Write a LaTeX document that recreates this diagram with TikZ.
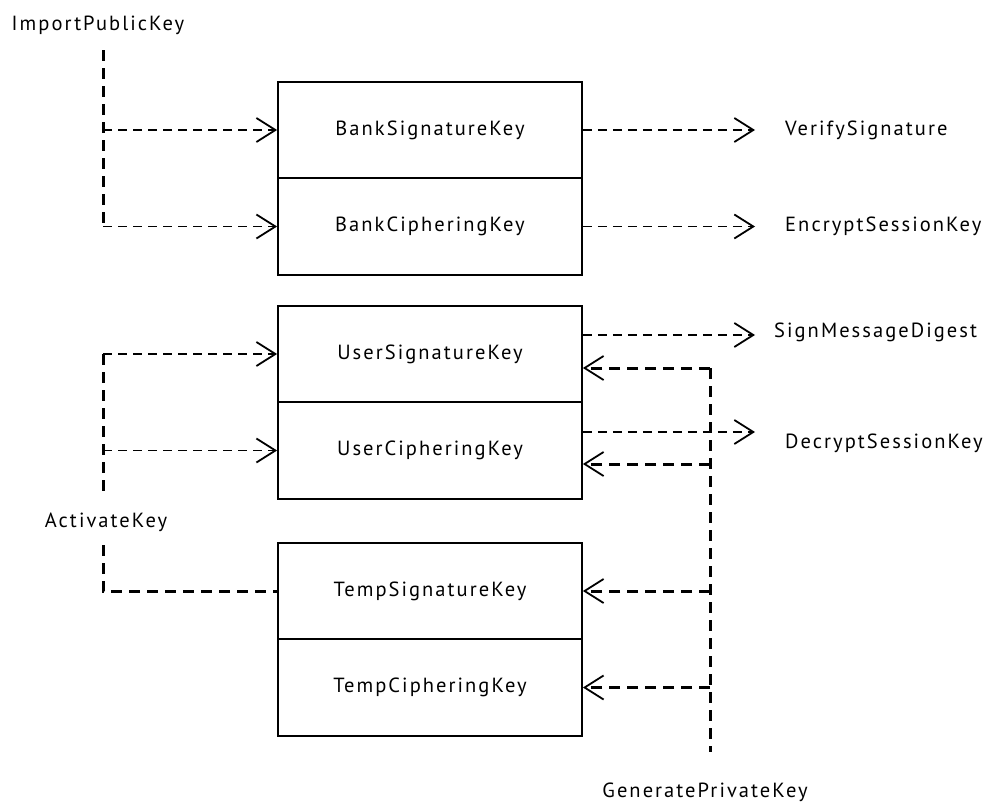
\documentclass[tikz,border=0pt]{standalone}
\usepackage{fontspec}
\setmainfont[LetterSpace=10]{PT Sans}
\usetikzlibrary{arrows.meta}
\begin{document}
\begin{tikzpicture}[x=1pt,y=-1pt,
  font=\fontsize{20.5}{24}\selectfont,
  key/.style={draw, line width=1.8pt, minimum width=304pt, minimum height=96.5pt, inner sep=0pt},
  lbl/.style={inner sep=0pt},
  vee/.style={-{Straight Barb[length=19pt,width=24pt,line width=1.8pt]}},
  thin dash/.style={line width=1.8pt, dash pattern=on 9pt off 6pt},
  thick dash/.style={line width=3pt, dash pattern=on 11pt off 7pt}]
\useasboundingbox (0,0) rectangle (986,806);

% key boxes
\node[key] (bsk) at (430,130) {BankSignatureKey};
\node[key] (bck) at (430,226.5) {BankCipheringKey};
\node[key] (usk) at (430,354) {UserSignatureKey};
\node[key] (uck) at (430,450.5) {UserCipheringKey};
\node[key] (tsk) at (430,591) {TempSignatureKey};
\node[key] (tck) at (430,687.5) {TempCipheringKey};

% operation labels
\node[lbl] (imp) at (98,25) {ImportPublicKey};
\node[lbl] (act) at (106,522) {ActivateKey};
\node[lbl] (gen) at (705,792) {GeneratePrivateKey};
\node[lbl, anchor=west] (ver) at (785,130) {VerifySignature};
\node[lbl, anchor=west] (enc) at (785,226) {EncryptSessionKey};
\node[lbl, anchor=west] (sig) at (774,332) {SignMessageDigest};
\node[lbl, anchor=west] (dec) at (785,443) {DecryptSessionKey};

% ImportPublicKey
\coordinate (i0) at (103,50);
\coordinate (i1) at (103,130);
\coordinate (i2) at (103,226.5);
\draw[thick dash] (i0) -- (i2);
\draw[thin dash, vee] (i1) -- (bsk.west);
\draw[thin dash, vee] (i2) -- (bck.west);

% outgoing uses
\coordinate (o1) at (755,130);
\coordinate (o2) at (755,226.5);
\coordinate (o3) at (755,335);
\coordinate (o4) at (755,432);
\draw[thin dash, vee] (bsk.east) -- (o1);
\draw[thin dash, vee] (bck.east) -- (o2);
\draw[thin dash, vee] (usk.east |- o3) -- (o3);
\draw[thin dash, vee] (uck.east |- o4) -- (o4);

% ActivateKey
\coordinate (a1) at (103,354);
\coordinate (a2) at (103,450.5);
\coordinate (a3) at (103,497);
\coordinate (a4) at (103,545);
\draw[thick dash] (a1) -- (a3);
\draw[thick dash] (a4) |- (tsk.west);
\draw[thin dash, vee] (a1) -- (usk.west);
\draw[thin dash, vee] (a2) -- (uck.west);

% GeneratePrivateKey
\coordinate (g1) at (710,368);
\coordinate (g2) at (710,464);
\coordinate (g3) at (710,591);
\coordinate (g4) at (710,687.5);
\coordinate (g5) at (710,752);
\draw[thick dash] (g1) -- (g5);
\draw[thick dash, vee] (g1) -- (usk.east |- g1);
\draw[thick dash, vee] (g2) -- (uck.east |- g2);
\draw[thick dash, vee] (g3) -- (tsk.east);
\draw[thick dash, vee] (g4) -- (tck.east);
\end{tikzpicture}
\end{document}
